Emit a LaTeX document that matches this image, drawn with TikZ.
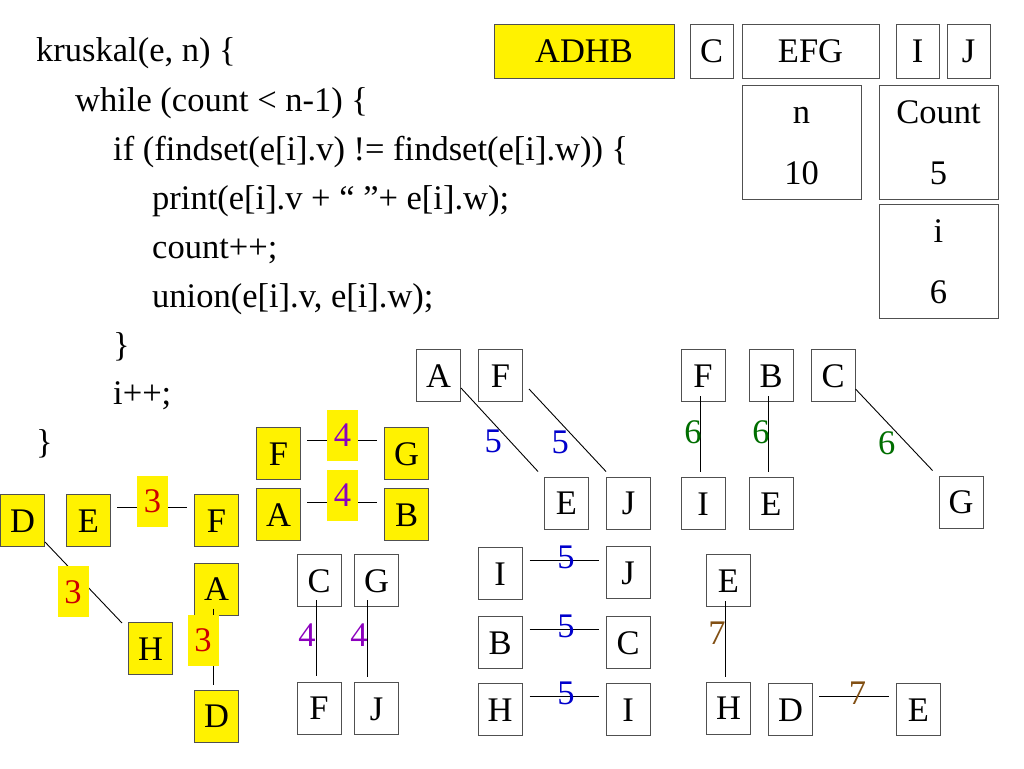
\documentclass[tikz,border=0pt]{standalone}
\usepackage{fontspec}
\setmainfont{Liberation Serif}
\newcommand{\fs}{\fontsize{34.5}{34.5}\selectfont}
\definecolor{cred}{RGB}{204,0,0}
\definecolor{cpurple}{RGB}{140,0,190}
\definecolor{cblue}{RGB}{0,0,204}
\definecolor{cgreen}{RGB}{0,110,0}
\definecolor{cbrown}{RGB}{130,80,20}
\definecolor{bordergray}{RGB}{80,80,80}
\begin{document}
\begin{tikzpicture}[x=1pt,y=-1pt,
  code/.style={anchor=base west, inner sep=0pt, font=\fs},
  vbox/.style={draw=bordergray, line width=1pt, minimum width=44pt, minimum height=52pt, inner sep=0pt, text height=23pt, text depth=0pt, font=\fs},
  ybox/.style={vbox, fill=yellow},
  ylab/.style={fill=yellow, minimum width=31pt, minimum height=51pt, inner sep=0pt, text height=23pt, text depth=0pt, font=\fs},
  elab/.style={inner sep=0pt, text height=23pt, text depth=0pt, font=\fs},
  edge/.style={draw=black, line width=0.9pt},
  txt/.style={anchor=base, inner sep=0pt, font=\fs}
]
\useasboundingbox (0,0) rectangle (1024,768);
\fill[white] (0,0) rectangle (1024,768);

% code
\node[code] (c1) at (36,62) {kruskal(e, n) \{};
\node[code] (c2) at (75,111) {while (count < n-1) \{};
\node[code] (c3) at (113,160) {if (findset(e[i].v) != findset(e[i].w)) \{};
\node[code] (c4) at (152,209) {print(e[i].v + “ ”+ e[i].w);};
\node[code] (c5) at (152,258) {count++;};
\node[code] (c6) at (152,307) {union(e[i].v, e[i].w);};
\node[code] (c7) at (113,356) {\}};
\node[code] (c8) at (113,404) {i++;};
\node[code] (c9) at (36,453) {\}};

% state row
\node[ybox, minimum width=180pt, minimum height=53pt] (sADHB) at (584,51.5) {ADHB};
\node[vbox, minimum width=43pt, minimum height=53pt] (sC0) at (711.5,51.5) {C};
\node[vbox, minimum width=137pt, minimum height=53pt] (sEFG) at (810.5,51.5) {EFG};
\node[vbox, minimum width=43pt, minimum height=53pt] (sI0) at (917.5,51.5) {I};
\node[vbox, minimum width=43pt, minimum height=53pt] (sJ0) at (968.5,51.5) {J};

\node[vbox, minimum width=119pt, minimum height=114pt] (nbox) at (801.5,142) {};
\node[txt] (nlab) at (801.5,123) {n};
\node[txt] (nval) at (801.5,184) {10};
\node[vbox, minimum width=119pt, minimum height=114pt] (cbox) at (938.5,142) {};
\node[txt] (clab) at (938.5,123) {Count};
\node[txt] (cval) at (938.5,184) {5};
\node[vbox, minimum width=119pt, minimum height=114pt] (ibox) at (938.5,261) {};
\node[txt] (ilab) at (938.5,242) {i};
\node[txt] (ival) at (938.5,303) {6};

% left yellow group (weight 3)
\node[ybox] (lD1) at (22.5,520.5) {D};
\node[ybox] (lE) at (88.5,520.5) {E};
\node[ybox] (lF) at (216.5,520.5) {F};
\node[ybox] (lA) at (216.5,589) {A};
\node[ybox] (lH) at (150.5,648.5) {H};
\node[ybox] (lD2) at (216.5,716) {D};

% middle yellow group (weight 4)
\node[ybox] (mF) at (278.5,453.5) {F};
\node[ybox] (mG) at (406.5,453.5) {G};
\node[ybox] (mA) at (278.5,514.5) {A};
\node[ybox] (mB) at (406.5,514.5) {B};

% weight 4 candidates
\node[vbox] (cC) at (319,580.5) {C};
\node[vbox] (cG) at (376.5,580.5) {G};
\node[vbox] (cF) at (319,708) {F};
\node[vbox] (cJ) at (376.5,708.5) {J};

% weight 5
\node[vbox] (fA) at (438.5,375.5) {A};
\node[vbox] (fF) at (500.5,375.5) {F};
\node[vbox] (fE) at (566.5,503) {E};
\node[vbox] (fJ) at (628.5,503) {J};
\node[vbox] (rI1) at (500,573.5) {I};
\node[vbox] (rJ1) at (628,572.5) {J};
\node[vbox] (rB) at (500,642.5) {B};
\node[vbox] (rC) at (628,642.5) {C};
\node[vbox] (rH) at (500,709.5) {H};
\node[vbox] (rI2) at (628,709.5) {I};

% weight 6
\node[vbox] (sF) at (703,375.5) {F};
\node[vbox] (sB) at (771,375.5) {B};
\node[vbox] (sC) at (833,375.5) {C};
\node[vbox] (sI) at (703,503.5) {I};
\node[vbox] (sE) at (771,503.5) {E};
\node[vbox] (sG) at (961,502) {G};

% weight 7
\node[vbox] (tE) at (728.5,580.5) {E};
\node[vbox] (tH) at (728.5,708) {H};
\node[vbox] (tD) at (790.5,709.5) {D};
\node[vbox] (tE2) at (918.5,709.5) {E};

% ---- connectors ----
% weight 3
\draw[edge, shorten <=6pt, shorten >=7pt] ([yshift=13.5pt]lE.east) -- node[ylab, text=cred, yshift=6pt] (w3a) {3} ([yshift=13.5pt]lF.west);
\draw[edge] ([yshift=5pt]lD1.south east) -- node[ylab, text=cred, pos=0.617, xshift=-19.5pt] (w3b) {3} ([xshift=-6pt,yshift=-1pt]lH.north west);
\draw[edge] ([xshift=-3.5pt,yshift=7pt]lA.south) -- node[ylab, text=cred, pos=0.416, xshift=-10pt] (w3c) {3} ([xshift=-3.5pt,yshift=5pt]lD2.north);

% weight 4
\draw[edge, shorten <=6pt, shorten >=7pt] ([yshift=13.5pt]mF.east) -- node[ylab, text=cpurple, yshift=5pt] (w4a) {4} ([yshift=13.5pt]mG.west);
\draw[edge, shorten <=6pt, shorten >=7pt] ([yshift=12.5pt]mA.east) -- node[ylab, text=cpurple, yshift=7pt] (w4b) {4} ([yshift=12.5pt]mB.west);
\draw[edge] ([xshift=-3pt,yshift=7pt]cC.south) -- node[elab, text=cpurple, pos=0.46, xshift=-9pt] (w4c) {4} ([xshift=-3pt,yshift=6pt]cF.north);
\draw[edge] ([xshift=-9.5pt,yshift=7pt]cG.south) -- node[elab, text=cpurple, pos=0.46, xshift=-8pt] (w4d) {4} ([xshift=-9.5pt,yshift=5pt]cJ.north);

% weight 5
\draw[edge] ([yshift=-12.5pt]fA.east) -- node[elab, text=cblue, pos=0.64, xshift=-17pt] (w5a) {5} ([xshift=-6pt,yshift=5pt]fE.north west);
\draw[edge] ([xshift=6pt,yshift=-13.5pt]fF.east) -- node[elab, text=cblue, pos=0.64, xshift=-18pt] (w5b) {5} ([yshift=5pt]fJ.north west);
\draw[edge, shorten <=7pt, shorten >=7pt] ([yshift=13.5pt]rI1.east) -- node[elab, text=cblue, yshift=3pt, xshift=2pt] (w5c) {5} ([yshift=12.5pt]rJ1.west);
\draw[edge, shorten <=7pt, shorten >=7pt] ([yshift=13.5pt]rB.east) -- node[elab, text=cblue, yshift=3pt, xshift=2pt] (w5d) {5} ([yshift=13.5pt]rC.west);
\draw[edge, shorten <=7pt, shorten >=7pt] ([yshift=13.5pt]rH.east) -- node[elab, text=cblue, yshift=3pt, xshift=2pt] (w5e) {5} ([yshift=13.5pt]rI2.west);

% weight 6
\draw[edge] ([xshift=-3pt,yshift=6pt]sF.south) -- node[elab, text=cgreen, pos=0.47, xshift=-7pt] (w6a) {6} ([xshift=-3pt,yshift=5pt]sI.north);
\draw[edge] ([xshift=-3pt,yshift=6pt]sB.south) -- node[elab, text=cgreen, pos=0.47, xshift=-7pt] (w6b) {6} ([xshift=-3pt,yshift=5pt]sE.north);
\draw[edge] ([yshift=-13.5pt]sC.east) -- node[elab, text=cgreen, pos=0.66, xshift=-19.5pt] (w6c) {6} ([xshift=-6pt,yshift=5pt]sG.north west);

% weight 7
\draw[edge] ([xshift=-3.5pt,yshift=6pt]tE.south) -- node[elab, text=cbrown, pos=0.43, xshift=-8pt] (w7a) {7} ([xshift=-3.5pt,yshift=5pt]tH.north);
\draw[edge, shorten <=6pt, shorten >=7pt] ([yshift=13.5pt]tD.east) -- node[elab, text=cbrown, yshift=3pt, xshift=3pt] (w7b) {7} ([yshift=13.5pt]tE2.west);
\end{tikzpicture}
\end{document}
